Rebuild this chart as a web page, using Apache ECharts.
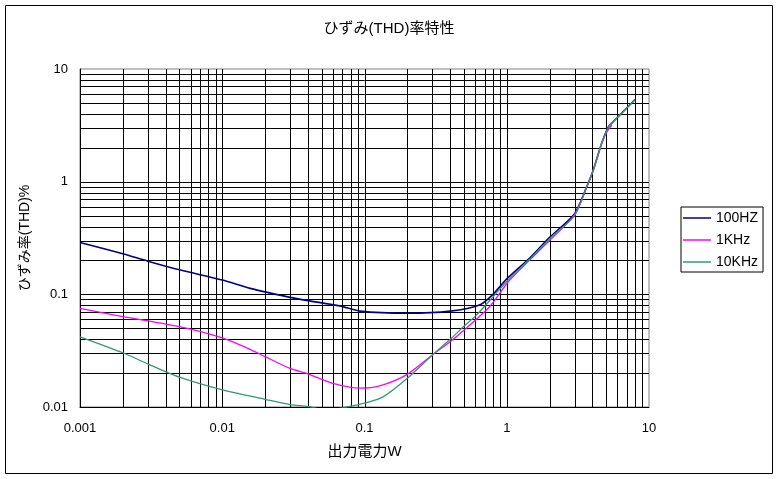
<!DOCTYPE html>
<html>
<head>
<meta charset="utf-8">
<script src="https://cdn.jsdelivr.net/npm/echarts@6/dist/echarts.min.js"></script>
<style>
html,body{margin:0;padding:0;background:#fff;}
#chart{width:778px;height:479px;}
</style>
</head>
<body>
<div id="chart"></div>
<script>
// ---- data ----
const titleText = 'ひずみ(THD)率特性';
const xAxisName = '出力電力W';
const yAxisName = 'ひずみ率(THD)%';
const seriesNames = ['100HZ', '1KHz', '10KHz'];

const xTickLabels = ['0.001', '0.01', '0.1', '1', '10'];
const yTickLabels = ['0.01', '0.1', '1', '10'];

const p100 = [0.001, 0.002, 0.003, 0.005, 0.01, 0.0157, 0.03, 0.04, 0.067, 0.093, 0.2, 0.4, 0.65, 0.8, 1, 1.45, 2, 3, 3.65, 4.06, 4.65, 5.18, 5.6, 8];
const v100 = [0.289, 0.229, 0.197, 0.165, 0.134, 0.113, 0.094, 0.088, 0.079, 0.071, 0.068, 0.071, 0.081, 0.10, 0.137, 0.21, 0.32, 0.52, 0.9, 1.27, 2.19, 3.07, 3.4, 5.37];

const p1k = [0.001, 0.002, 0.005, 0.01, 0.0157, 0.02, 0.03, 0.04, 0.06, 0.093, 0.128, 0.2, 0.3, 0.4, 0.5, 0.76, 1.05, 2, 3, 3.65, 4.06, 4.65, 5.0, 5.47];
const v1k = [0.075, 0.0633, 0.0516, 0.041, 0.0325, 0.028, 0.022, 0.0197, 0.0162, 0.0147, 0.0154, 0.0195, 0.029, 0.038, 0.048, 0.078, 0.134, 0.30, 0.51, 0.9, 1.27, 2.19, 2.7, 3.18];

const p10k = [0.001, 0.002, 0.003, 0.005, 0.01, 0.02, 0.03, 0.04, 0.055, 0.075, 0.1, 0.135, 0.2, 0.3, 0.41, 0.5, 0.61, 0.83, 1.0, 1.45, 2, 3, 3.65, 4.06, 4.65, 5.2, 5.6, 8];
const v10k = [0.042, 0.0303, 0.0241, 0.0184, 0.0142, 0.0117, 0.0105, 0.0101, 0.0094, 0.0100, 0.0108, 0.0123, 0.018, 0.0289, 0.041, 0.052, 0.065, 0.10, 0.13, 0.205, 0.31, 0.5, 0.9, 1.27, 2.19, 3.07, 3.4, 5.37];

const seriesColors = ['#000080', '#ff00ff', '#339973'];

// ---- grid line values (log decades x 1..9) ----
const xMin = 0.001, xMax = 10, yMin = 0.01, yMax = 10;
const multipliers = [1, 2, 3, 4, 5, 6, 7, 8, 9];
function gridValues(lo, hi) {
  const out = [];
  for (let e = Math.round(Math.log10(lo)); e < Math.round(Math.log10(hi)); e++) {
    multipliers.forEach(m => {
      const v = m * Math.pow(10, e);
      if (v > lo * 1.0001 && v < hi * 0.9999) out.push(v);
    });
  }
  return out;
}
const xGrid = gridValues(xMin, xMax).map(v => [v, 1]);
const yGrid = gridValues(yMin, yMax).map(v => [1, v]);

function pair(xs, ys) { return xs.map((x, i) => [x, ys[i]]); }

function tickLabel(labels, minVal) {
  return function (v) {
    const idx = Math.round(Math.log10(v) - Math.log10(minVal));
    return labels[idx] !== undefined ? labels[idx] : '';
  };
}

const font = '"Liberation Sans", "Noto Sans CJK JP", sans-serif';
const chart = echarts.init(document.getElementById('chart'), null, {renderer: 'canvas'});

const lineSeries = [[p100, v100], [p1k, v1k], [p10k, v10k]].map((d, i) => ({
  name: seriesNames[i],
  type: 'line',
  data: pair(d[0], d[1]),
  smooth: 0.25,
  symbol: 'none',
  showSymbol: false,
  clip: true,
  z: 5,
  lineStyle: {color: seriesColors[i], width: i === 0 ? 1.6 : 1.3},
  itemStyle: {color: seriesColors[i]},
  animation: false
}));

chart.setOption({
  animation: false,
  backgroundColor: '#fff',
  textStyle: {fontFamily: font, color: '#000'},
  title: {
    text: titleText,
    left: 'center',
    top: 16,
    textStyle: {fontSize: 15, fontWeight: 'normal', color: '#000', fontFamily: font}
  },
  legend: {
    data: seriesNames.map(n => ({name: n, icon: 'rect'})),
    orient: 'vertical',
    left: 681,
    top: 207,
    itemWidth: 28,
    itemHeight: 1.5,
    itemGap: 6,
    itemTextGap: 3,
    padding: [3, 5, 2, 2],
    borderColor: '#000',
    borderWidth: 1,
    backgroundColor: '#fff',
    textStyle: {fontSize: 14, lineHeight: 16, color: '#000', fontFamily: font}
  },
  grid: {
    left: 80, right: 129, top: 69, bottom: 72,
    show: true, borderColor: '#808080', borderWidth: 1,
    backgroundColor: 'transparent'
  },
  xAxis: {
    type: 'log', logBase: 10, min: xMin, max: xMax,
    name: xAxisName, nameLocation: 'middle', nameGap: 37,
    nameTextStyle: {fontSize: 15, color: '#000', fontFamily: font},
    axisLine: {onZero: false, lineStyle: {color: '#000', width: 1}},
    axisTick: {show: false},
    splitLine: {show: false},
    axisLabel: {color: '#000', fontSize: 13, margin: 15, fontFamily: font, formatter: tickLabel(xTickLabels, xMin)}
  },
  yAxis: {
    type: 'log', logBase: 10, min: yMin, max: yMax,
    name: yAxisName, nameLocation: 'middle', nameGap: 48,
    nameTextStyle: {fontSize: 14, color: '#000', fontFamily: font},
    axisLine: {onZero: false, lineStyle: {color: '#000', width: 1}},
    axisTick: {show: false},
    splitLine: {show: false},
    axisLabel: {color: '#000', fontSize: 13, margin: 12, fontFamily: font, formatter: tickLabel(yTickLabels, yMin)}
  },
  graphic: [{
    type: 'rect',
    shape: {x: 5.5, y: 5.5, width: 767, height: 468},
    style: {fill: 'none', stroke: '#000', lineWidth: 1},
    silent: true, z: 100
  }],
  series: [
    {
      type: 'custom', name: 'vgrid', data: xGrid, z: 1, silent: true,
      renderItem: function (params, api) {
        const cs = params.coordSys;
        const x = Math.round(api.coord([api.value(0), api.value(1)])[0]) + 0.5;
        return {type: 'line', shape: {x1: x, y1: cs.y, x2: x, y2: cs.y + cs.height},
          style: {stroke: '#000', lineWidth: 1}};
      }
    },
    {
      type: 'custom', name: 'hgrid', data: yGrid, z: 1, silent: true,
      renderItem: function (params, api) {
        const cs = params.coordSys;
        const y = Math.round(api.coord([api.value(0), api.value(1)])[1]) + 0.5;
        return {type: 'line', shape: {x1: cs.x, y1: y, x2: cs.x + cs.width, y2: y},
          style: {stroke: '#000', lineWidth: 1}};
      }
    }
  ].concat(lineSeries)
});
</script>
</body>
</html>
